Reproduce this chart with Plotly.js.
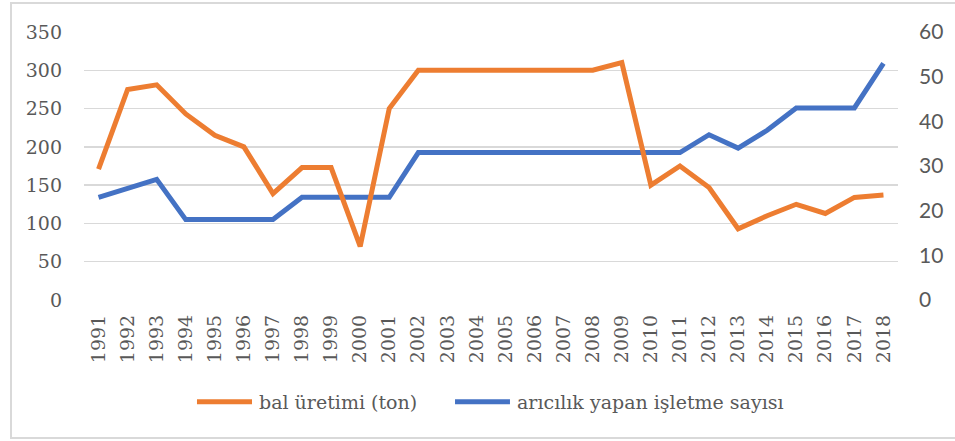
<!DOCTYPE html>
<html>
<head>
<meta charset="utf-8">
<script src="https://cdn.plot.ly/plotly-3.0.1.min.js"></script>
<style>
  html, body { margin: 0; padding: 0; background: #ffffff; }
  #chart { width: 955px; height: 441px; }
</style>
</head>
<body>
<div id="chart"></div>
<script>
const years = [1991,1992,1993,1994,1995,1996,1997,1998,1999,2000,2001,2002,2003,2004,2005,2006,2007,2008,2009,2010,2011,2012,2013,2014,2015,2016,2017,2018];
const balUretimi = [171,275,281,243,215,200,139,173,173,70,250,300,300,300,300,300,300,300,310,150,175,147,93,110,125,113,134,137];
const isletmeSayisi = [23,25,27,18,18,18,18,23,23,23,23,33,33,33,33,33,33,33,33,33,33,37,34,38,43,43,43,53];
const seriesNames = ['bal üretimi (ton)', 'arıcılık yapan işletme sayısı'];
const seriesColors = ['#ED7D31', '#4472C4'];
const leftTicks = [0,50,100,150,200,250,300,350];
const rightTicks = [0,10,20,30,40,50,60];

const serif = 'DejaVu Serif';

const traces = [
  {x: years, y: balUretimi, name: seriesNames[0], type: 'scatter', mode: 'lines',
   yaxis: 'y2', line: {color: seriesColors[0], width: 5}},
  {x: years, y: isletmeSayisi, name: seriesNames[1], type: 'scatter', mode: 'lines',
   yaxis: 'y', line: {color: seriesColors[1], width: 5}}
];

const legendY = -0.38;
const legendItems = [
  {x0: 0.1388, x1: 0.2064, tx: 0.2125},
  {x0: 0.4558, x1: 0.5233, tx: 0.5295}
];
const shapes = [{
  type: 'rect', xref: 'paper', yref: 'paper',
  x0: -0.0897, x1: 1.08, y0: -0.515, y1: 1.108,
  line: {color: '#D9D9D9', width: 2}, fillcolor: 'rgba(0,0,0,0)', layer: 'below'
}];
const annotations = [];
legendItems.forEach((it, i) => {
  shapes.push({type: 'line', xref: 'paper', yref: 'paper', x0: it.x0, x1: it.x1, y0: legendY, y1: legendY,
    line: {color: seriesColors[i], width: 5}});
  annotations.push({xref: 'paper', yref: 'paper', x: it.tx, y: legendY, xanchor: 'left', yanchor: 'middle',
    text: seriesNames[i], showarrow: false, font: {family: serif, size: 19, color: '#595959'}});
});

const layout = {
  width: 955, height: 441,
  margin: {l: 84, r: 57, t: 32, b: 141},
  paper_bgcolor: '#ffffff', plot_bgcolor: '#ffffff',
  showlegend: false,
  xaxis: {
    type: 'linear', range: [1990.5, 2018.5], tickmode: 'array', tickvals: years,
    ticktext: years.map(String), tickangle: -90,
    tickfont: {family: serif, size: 19, color: '#595959'},
    showgrid: false, zeroline: false, showline: false, ticks: '',
    ticklabelstandoff: 10
  },
  yaxis: {
    side: 'right', range: [0, 60], tickmode: 'array', tickvals: rightTicks,
    tickfont: {family: 'Lato', size: 21, color: '#595959'},
    showgrid: false, zeroline: false, showline: false, ticks: '',
    ticklabelstandoff: 20
  },
  yaxis2: {
    overlaying: 'y', side: 'left', range: [0, 350], tickmode: 'array', tickvals: leftTicks,
    tickfont: {family: serif, size: 19, color: '#595959'},
    showgrid: true, gridcolor: '#D9D9D9', gridwidth: 1.3,
    zeroline: false, showline: false, ticks: '',
    ticklabelstandoff: 21
  },
  shapes: shapes,
  annotations: annotations
};

Plotly.newPlot('chart', traces, layout, {displayModeBar: false, staticPlot: true});
</script>
</body>
</html>
